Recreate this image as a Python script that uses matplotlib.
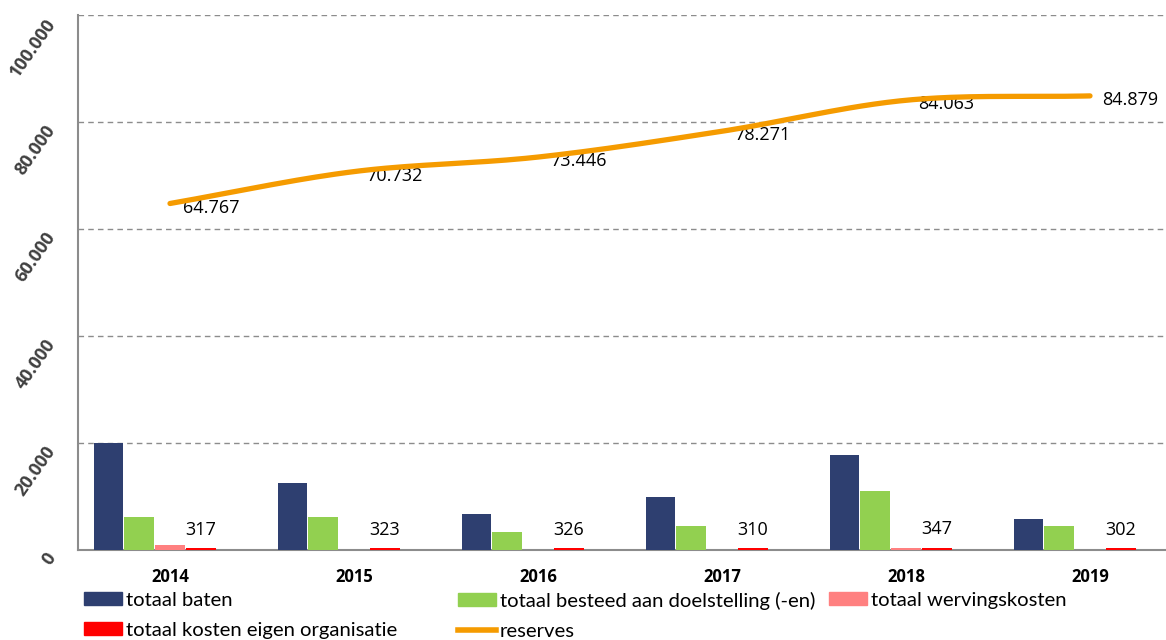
import numpy as np
import matplotlib
matplotlib.use("Agg")
import matplotlib.pyplot as plt
from matplotlib.patches import Patch
from matplotlib.lines import Line2D

years = ["2014", "2015", "2016", "2017", "2018", "2019"]
baten = [20000, 12500, 6700, 9900, 17800, 5800]
besteed = [6200, 6200, 3400, 4500, 11000, 4500]
werving = [950, 0, 0, 0, 300, 0]
eigen_org = [317, 323, 326, 310, 347, 302]
reserves = [64767, 70732, 73446, 78271, 84063, 84879]

def nl(v):
    return f"{v:,.0f}".replace(",", ".")

plt.rcParams['font.family'] = ['Lato', 'DejaVu Sans']

fig = plt.figure(figsize=(11.66, 6.40), dpi=100)
W, H = 1166, 640
ax = fig.add_axes([78 / W, 90 / H, (1182 - 78) / W, 535 / H])

x = np.arange(len(years))
w = 0.167
cols = ['#2E3F70', '#92D050', '#FF8080', '#FF0000']
series = [baten, besteed, werving, eigen_org]
for i, (s, c) in enumerate(zip(series, cols)):
    ax.bar(x + (i - 2) * w, s, width=w * 0.97, color=c, zorder=3)

# data labels for eigen organisatie
for xi, v in zip(x, eigen_org):
    ax.annotate(str(v), (xi + 1 * w, v), xytext=(0, 7), textcoords='offset points',
                ha='center', va='bottom', fontsize=13, family=['Open Sans', 'DejaVu Sans'])

# smooth reserves line (Catmull-Rom rendering through data points)
def catmull(xs, ys, n=30):
    px = np.concatenate([[2 * xs[0] - xs[1]], xs, [2 * xs[-1] - xs[-2]]])
    py = np.concatenate([[2 * ys[0] - ys[1]], ys, [2 * ys[-1] - ys[-2]]])
    ox, oy = [], []
    for k in range(1, len(px) - 2):
        t = np.linspace(0, 1, n)
        p0, p1, p2, p3 = [np.array([px[j], py[j]]) for j in (k - 1, k, k + 1, k + 2)]
        t2, t3 = t * t, t * t * t
        pts = 0.5 * ((2 * p1)[:, None] + (-p0 + p2)[:, None] * t +
                     (2 * p0 - 5 * p1 + 4 * p2 - p3)[:, None] * t2 +
                     (-p0 + 3 * p1 - 3 * p2 + p3)[:, None] * t3)
        ox.extend(pts[0]); oy.extend(pts[1])
    return np.array(ox), np.array(oy)

sx, sy = catmull(x.astype(float), np.array(reserves, float))
ax.plot(sx, sy, color='#F59B00', lw=3.8, solid_capstyle='round', zorder=4)
for xi, v in zip(x, reserves):
    ax.annotate(nl(v), (xi, v), xytext=(9, -3), textcoords='offset points',
                ha='left', va='center', fontsize=13, family=['Open Sans', 'DejaVu Sans'])

ax.set_xlim(-0.5, 5.5)
ax.set_ylim(0, 100000)
ax.set_yticks(np.arange(0, 100001, 20000))
ax.set_yticklabels([nl(v) for v in np.arange(0, 100001, 20000)], rotation=55,
                   rotation_mode='anchor', fontweight='bold', fontsize=13, color='#404040',
                   family=['Open Sans', 'DejaVu Sans'], va='top', ha='right')
ax.set_xticks(x)
ax.set_xticklabels(years, fontweight='bold', fontsize=12, family=['Open Sans', 'DejaVu Sans'])
ax.tick_params(axis='both', length=0)
ax.tick_params(axis='y', pad=24)
ax.tick_params(axis='x', pad=13)
ax.grid(axis='y', linestyle=(0, (4, 3)), color='#8C8C8C', lw=1, zorder=0)
for sp in ['top', 'right']:
    ax.spines[sp].set_visible(False)
for sp in ['left', 'bottom']:
    ax.spines[sp].set_color('#8C8C8C')
    ax.spines[sp].set_linewidth(1.5)

leg_kw = dict(frameon=False, fontsize=14.6, handlelength=1.85, handleheight=0.6,
              handletextpad=0.2, labelspacing=0.62, borderpad=0, borderaxespad=0,
              loc='upper left')
fig.legend(handles=[Patch(color=cols[0]), Patch(color=cols[3])],
           labels=['totaal baten', 'totaal kosten eigen organisatie'],
           bbox_to_anchor=(84 / W, 1 - 592 / H), **leg_kw)
fig.legend(handles=[Patch(color=cols[1]), Line2D([], [], color='#F59B00', lw=4)],
           labels=['totaal besteed aan doelstelling (-en)', 'reserves'],
           bbox_to_anchor=(458 / W, 1 - 592 / H), **leg_kw)
fig.legend(handles=[Patch(color=cols[2])],
           labels=['totaal wervingskosten'],
           bbox_to_anchor=(829 / W, 1 - 592 / H), **leg_kw)

fig.savefig('out.png', dpi=100)
